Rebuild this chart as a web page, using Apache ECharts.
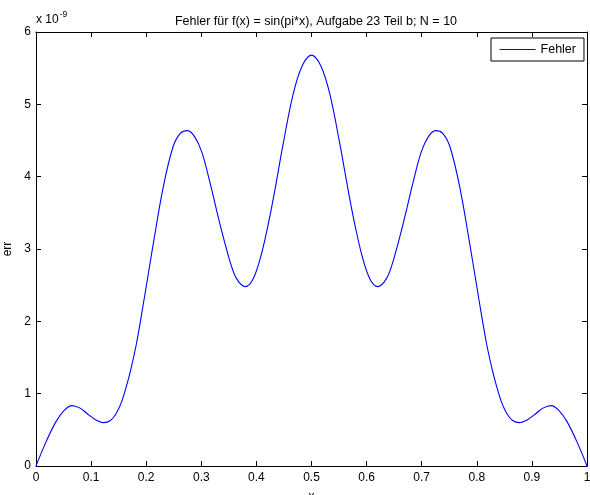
<!DOCTYPE html>
<html>
<head>
<meta charset="utf-8">
<script src="https://cdn.jsdelivr.net/npm/echarts@6/dist/echarts.min.js"></script>
<style>
  html, body { margin: 0; padding: 0; background: #fff; }
  #chart { width: 590px; height: 495px; }
</style>
</head>
<body>
<div id="chart"></div>
<script>
// Interpolation error for f(x) = sin(pi*x), N = 10 (values in units of 1e-9)
const xValues = [
  0, 0.018, 0.036, 0.05, 0.065, 0.08, 0.092, 0.108, 0.123, 0.135,
  0.145, 0.155, 0.164, 0.171, 0.182, 0.195, 0.213, 0.231, 0.249, 0.262,
  0.275, 0.288, 0.301, 0.316, 0.334, 0.352, 0.364, 0.38, 0.393, 0.407,
  0.42, 0.431, 0.449, 0.467, 0.483, 0.5,
  0.517, 0.533, 0.551, 0.569, 0.58, 0.593, 0.607, 0.62, 0.636, 0.648,
  0.666, 0.684, 0.699, 0.712, 0.725, 0.738, 0.751, 0.769, 0.787, 0.805,
  0.818, 0.829, 0.836, 0.845, 0.855, 0.865, 0.877, 0.892, 0.908, 0.92,
  0.935, 0.95, 0.964, 0.982, 1
];
const errValues = [
  0, 0.33, 0.61, 0.76, 0.835, 0.80, 0.73, 0.64, 0.60, 0.63,
  0.72, 0.88, 1.10, 1.30, 1.68, 2.25, 3.08, 3.86, 4.42, 4.60,
  4.636, 4.55, 4.34, 3.91, 3.34, 2.83, 2.59, 2.48, 2.57, 2.87,
  3.29, 3.71, 4.47, 5.15, 5.53, 5.68,
  5.53, 5.15, 4.47, 3.71, 3.29, 2.87, 2.57, 2.48, 2.59, 2.83,
  3.34, 3.91, 4.34, 4.55, 4.636, 4.60, 4.42, 3.86, 3.08, 2.25,
  1.68, 1.30, 1.10, 0.88, 0.72, 0.63, 0.60, 0.64, 0.73, 0.80,
  0.835, 0.76, 0.61, 0.33, 0
];
const xTicks = { min: 0, max: 1, interval: 0.1 };
const yTicks = { min: 0, max: 6, interval: 1 };
const yExponent = '-9';
const titleText = 'Fehler für f(x) = sin(pi*x), Aufgabe 23 Teil b; N = 10';
const seriesName = 'Fehler';
const lineColor = '#0000ff';

const points = xValues.map((x, i) => [x, errValues[i]]);
const FONT = 'Liberation Sans, Arial, Helvetica, sans-serif';

const chart = echarts.init(document.getElementById('chart'));
const tickStyle = { show: true, inside: true, length: 5, lineStyle: { color: '#000', width: 1 } };
const lineStyle = { show: true, onZero: false, lineStyle: { color: '#000', width: 1 } };

chart.setOption({
  animation: false,
  backgroundColor: '#fff',
  color: [lineColor],
  title: {
    text: titleText,
    left: 311, top: 10, textAlign: 'center',
    textStyle: { fontFamily: FONT, fontSize: 12.5, fontWeight: 'normal', color: '#000' }
  },
  legend: {
    left: 491, top: 38,
    padding: [5, 8, 5, 8],
    itemWidth: 36, itemHeight: 1, itemGap: 5,
    borderColor: '#000', borderWidth: 1,
    backgroundColor: '#fff',
    borderRadius: 0,
    lineStyle: { color: lineColor, width: 1.1 },
    textStyle: { fontFamily: FONT, fontSize: 12.5, color: '#000', lineHeight: 13 },
    data: [seriesName]
  },
  grid: { left: 36, right: 3, top: 32, bottom: 29, containLabel: false, outerBoundsMode: 'none' },
  xAxis: [
    {
      type: 'value', min: xTicks.min, max: xTicks.max, interval: xTicks.interval,
      position: 'bottom',
      name: 'x', nameLocation: 'middle', nameGap: 25, nameMoveOverlap: false,
      nameTextStyle: { fontFamily: FONT, fontSize: 12, color: '#000' },
      axisLine: lineStyle, axisTick: tickStyle,
      axisLabel: { fontFamily: FONT, fontSize: 12, color: '#000', margin: 6 },
      splitLine: { show: false }
    },
    {
      type: 'value', min: xTicks.min, max: xTicks.max, interval: xTicks.interval,
      position: 'top',
      axisLine: lineStyle, axisTick: tickStyle,
      axisLabel: { show: false }, splitLine: { show: false }
    }
  ],
  yAxis: [
    {
      type: 'value', min: yTicks.min, max: yTicks.max, interval: yTicks.interval,
      position: 'left',
      name: 'err', nameLocation: 'middle', nameGap: 22, nameRotate: 90, nameMoveOverlap: false,
      nameTextStyle: { fontFamily: FONT, fontSize: 12, color: '#000' },
      axisLine: lineStyle, axisTick: tickStyle,
      axisLabel: { fontFamily: FONT, fontSize: 12, color: '#000', margin: 5 },
      splitLine: { show: false }
    },
    {
      type: 'value', min: yTicks.min, max: yTicks.max, interval: yTicks.interval,
      position: 'right',
      axisLine: lineStyle, axisTick: tickStyle,
      axisLabel: { show: false }, splitLine: { show: false }
    }
  ],
  graphic: [
    {
      type: 'text', left: 36, top: 10,
      style: {
        text: '{b|x 10}{s|' + yExponent + '}',
        rich: {
          b: { fontFamily: FONT, fontSize: 12, fill: '#000', padding: [4, 0, 0, 0] },
          s: { fontFamily: FONT, fontSize: 8.5, fill: '#000', verticalAlign: 'top', padding: [0, 0, 6, 1] }
        }
      }
    }
  ],
  series: [
    {
      name: seriesName,
      type: 'line',
      xAxisIndex: 0, yAxisIndex: 0,
      data: points,
      smooth: 0.35,
      showSymbol: false,
      symbol: 'none',
      lineStyle: { color: lineColor, width: 1.1 },
      itemStyle: { color: lineColor }
    }
  ]
});
</script>
</body>
</html>
